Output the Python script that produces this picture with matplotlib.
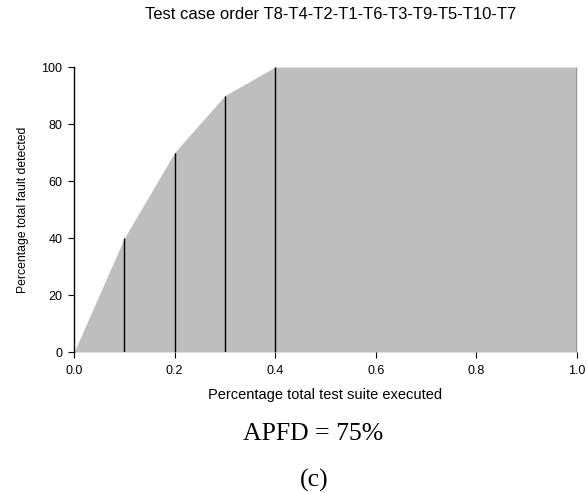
import matplotlib
matplotlib.use("Agg")
import matplotlib.pyplot as plt

x_frac = [0.0, 0.1, 0.2, 0.3, 0.4, 1.0]
faults = [0, 40, 70, 90, 100, 100]
line_x = [0.1, 0.2, 0.3, 0.4, 1.0]
line_y = [40, 70, 90, 100, 100]
xticks = [0.0, 0.2, 0.4, 0.6, 0.8, 1.0]
yticks = [0, 20, 40, 60, 80, 100]

plt.rcParams['font.family'] = ['Liberation Sans', 'DejaVu Sans']

fig = plt.figure(figsize=(5.88, 4.93), dpi=100)
ax = fig.add_axes([0.126, 0.286, 0.855, 0.578])
ax.fill_between(x_frac, faults, 0, color='#BEBEBE', linewidth=0, zorder=1)
ax.vlines(line_x, 0, line_y, colors='black', linewidth=1.0, zorder=2)

ax.set_xlim(0, 1.0)
ax.set_ylim(0, 100)
for s in ['top', 'right', 'bottom']:
    ax.spines[s].set_visible(False)
ax.spines['left'].set_linewidth(1.0)
ax.set_xticks(xticks)
ax.set_xticklabels(['0.0', '0.2', '0.4', '0.6', '0.8', '1.0'])
ax.set_yticks(yticks)
ax.tick_params(axis='both', labelsize=9, length=4.3, width=0.8, direction='out')
ax.tick_params(axis='x', pad=5)
ax.tick_params(axis='y', pad=4)
for t in ax.get_xticklines():
    t.set_zorder(0)

ax.set_xlabel('Percentage total test suite executed', fontsize=10.5, labelpad=8)
ax.set_ylabel('Percentage total fault detected', fontsize=8.8, labelpad=9)
fig.text(0.563, 0.97, 'Test case order T8-T4-T2-T1-T6-T3-T9-T5-T10-T7',
         ha='center', va='center', fontsize=12)

fig.text(0.532, 0.12, 'APFD = 75%', ha='center', va='center',
         fontsize=18.5, family=['Liberation Serif', 'DejaVu Serif'])
fig.text(0.535, 0.026, '(c)', ha='center', va='center',
         fontsize=18.5, family=['Liberation Serif', 'DejaVu Serif'])

fig.savefig('out.png', dpi=100)
